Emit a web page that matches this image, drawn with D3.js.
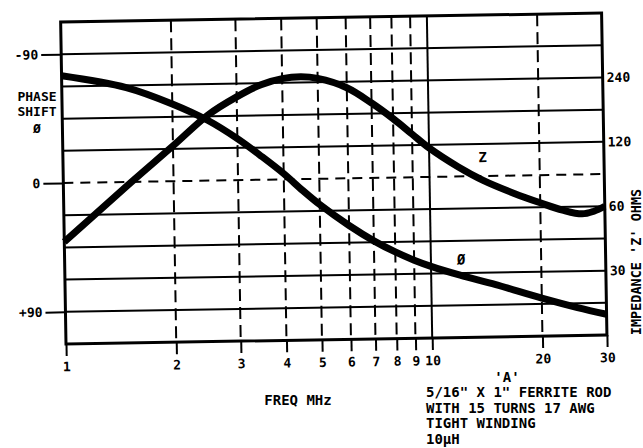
<!DOCTYPE html>
<html><head><meta charset="utf-8">
<script src="https://cdn.jsdelivr.net/npm/d3@7"></script>
<style>
html,body{margin:0;padding:0;background:#fff;}
svg{display:block;}
text{font-family:"DejaVu Sans Mono",monospace;font-weight:bold;fill:#000;}
</style></head><body>
<svg id="c" width="643" height="448"></svg>
<script>
const freqTicks = [1, 2, 3, 4, 5, 6, 7, 8, 9, 10, 20, 30];
const freqGridDashed = [2, 3, 4, 5, 6, 7, 8, 9, 20];
const freqGridSolid = [10];
const phaseGridSolid = [-90, -67.5, -45, -22.5, 22.5, 45, 67.5, 90];
const phaseGridDashed = [0];
const phaseTicks = [-90, 0, 90];
const phaseTickLabels = ["-90", "0", "+90"];
const zTicks = [240, 120, 60, 30];

const phaseFreq = [1, 1.5, 2, 2.5, 3, 3.5, 4, 4.5, 5, 6, 7, 8, 9, 10, 12, 15, 20, 25, 30];
const phaseVals = [-75, -66, -54, -42, -29, -16, -4, 8, 18, 33, 44, 52, 58, 62.5, 69, 76, 86, 93, 98];

const zFreq = [1, 1.5, 2, 2.5, 3, 3.5, 4, 4.5, 5, 6, 7, 8, 9, 10, 12, 14, 17, 20, 23, 26, 28, 30];
const zVals = [45, 82, 124, 172, 208, 236, 251, 255, 250, 225, 190, 160, 135, 116, 94, 81, 70, 63, 58, 55.5, 57, 60];

const noteTitle = "'A'";
const noteLines = ["5/16\" X 1\" FERRITE ROD", "WITH 15 TURNS 17 AWG", "TIGHT WINDING", "10µH"];

const L = 66, R = 607, T = 22, B = 344;
const x = d3.scaleLog().domain([1, 30]).range([L, R]);
const yP = d3.scaleLinear().domain([-112.5, 112.5]).range([T, B]);
const yZ = d3.scaleLog().base(2).domain([480, 15]).range([T, B]);

const svg = d3.select("#c");
svg.append("rect").attr("width", 643).attr("height", 448).attr("fill", "#fff");
const g = svg.append("g").attr("transform", `rotate(-0.95,${L},${B})`);

// horizontal grid
g.selectAll(".hs").data(phaseGridSolid).join("line")
  .attr("x1", L).attr("x2", R).attr("y1", d => yP(d)).attr("y2", d => yP(d))
  .attr("stroke", "#000").attr("stroke-width", 2);
g.selectAll(".hd").data(phaseGridDashed).join("line")
  .attr("x1", L).attr("x2", R).attr("y1", d => yP(d)).attr("y2", d => yP(d))
  .attr("stroke", "#000").attr("stroke-width", 2).attr("stroke-dasharray", "10,7");
// vertical grid
g.selectAll(".vd").data(freqGridDashed).join("line")
  .attr("x1", d => x(d)).attr("x2", d => x(d)).attr("y1", T).attr("y2", B)
  .attr("stroke", "#000").attr("stroke-width", 2).attr("stroke-dasharray", "12,6");
g.selectAll(".vs").data(freqGridSolid).join("line")
  .attr("x1", d => x(d)).attr("x2", d => x(d)).attr("y1", T).attr("y2", B)
  .attr("stroke", "#000").attr("stroke-width", 2);

// border
g.append("rect").attr("x", L).attr("y", T).attr("width", R - L).attr("height", B - T)
  .attr("fill", "none").attr("stroke", "#000").attr("stroke-width", 3);

// axes
const ax = g.append("g").attr("transform", `translate(0,${B})`)
  .call(d3.axisBottom(x).tickValues(freqTicks).tickFormat(d3.format("d")).tickSize(12).tickPadding(6));
const ayl = g.append("g").attr("transform", `translate(${L},0)`)
  .call(d3.axisLeft(yP).tickValues(phaseTicks).tickFormat((d, i) => phaseTickLabels[i]).tickSize(20).tickPadding(3));
const ayr = g.append("g").attr("transform", `translate(${R},0)`)
  .call(d3.axisRight(yZ).tickValues(zTicks).tickFormat(d3.format("d")).tickSize(0).tickPadding(4));
[ax, ayl, ayr].forEach(a => {
  a.select(".domain").remove();
  a.selectAll(".tick line").attr("stroke", "#000").attr("stroke-width", 2);
  a.selectAll(".tick text").style("font-family", "'DejaVu Sans Mono',monospace").style("font-weight", "bold").style("font-size", "13px").attr("fill", "#000");
});

// curves
const line = d3.line().curve(d3.curveCatmullRom.alpha(0.5));
g.append("path")
  .attr("d", line(zFreq.map((f, i) => [x(f), yZ(zVals[i])])))
  .attr("fill", "none").attr("stroke", "#000").attr("stroke-width", 7).attr("stroke-linecap", "butt");
g.append("path")
  .attr("d", line(phaseFreq.map((f, i) => [x(f), yP(phaseVals[i])])))
  .attr("fill", "none").attr("stroke", "#000").attr("stroke-width", 7).attr("stroke-linecap", "butt");

// curve labels
g.append("text").attr("x", x(14)).attr("y", yZ(104)).attr("text-anchor", "middle").attr("dominant-baseline", "central").style("font-size", "14px").text("Z");
g.append("text").attr("x", x(12.1)).attr("y", yP(58)).attr("text-anchor", "middle").attr("dominant-baseline", "central").style("font-size", "14px").text("Ø");

// left axis title
const lt = svg.append("g").attr("transform", "translate(37,0)");
[["PHASE", 96], ["SHIFT", 111], ["Ø", 128]].forEach(([t, yy]) => {
  lt.append("text").attr("x", 0).attr("y", yy).attr("text-anchor", "middle").attr("dominant-baseline", "central").style("font-size", "13px").text(t);
});

// right axis title
svg.append("text").attr("transform", "translate(636,262) rotate(-90)")
  .attr("text-anchor", "middle").attr("dominant-baseline", "central")
  .style("font-size", "13.5px").text("IMPEDANCE 'Z' OHMS");

// x title
svg.append("text").attr("x", 298).attr("y", 400).attr("text-anchor", "middle").attr("dominant-baseline", "central").style("font-size", "14px").text("FREQ MHz");

// note block
svg.append("text").attr("x", 507).attr("y", 377).attr("text-anchor", "middle").attr("dominant-baseline", "central").style("font-size", "14px").text(noteTitle);
svg.selectAll(".note").data(noteLines).join("text")
  .attr("x", 426).attr("y", (d, i) => 392 + i * 15.5)
  .attr("dominant-baseline", "central").style("font-size", "14px").text(d => d);
</script>
</body></html>
